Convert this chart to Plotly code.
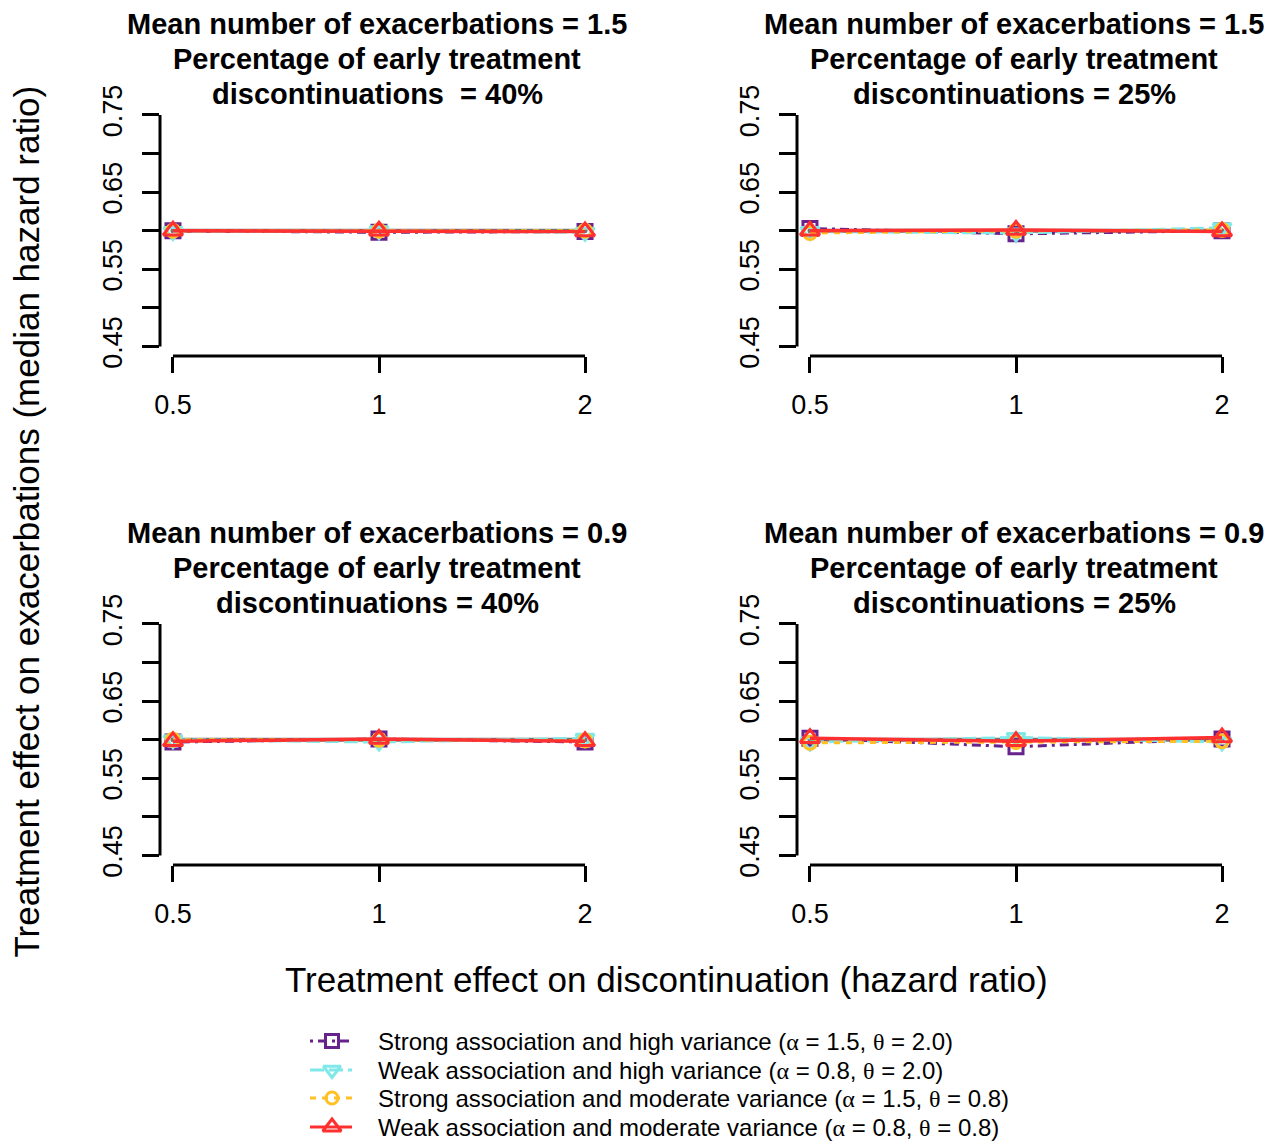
import plotly.graph_objects as go

W, H = 1283, 1142
OFF = 8  # page offset of the plot div (body margin)

# ---------------- data ----------------
x_labels = ["0.5", "1", "2"]
x_pos = [1, 2, 3]
true_value = [0.6, 0.6, 0.6]

# panel order: top-left, top-right, bottom-left, bottom-right
strong_high = [
    [0.600, 0.598, 0.599],
    [0.603, 0.596, 0.600],
    [0.597, 0.601, 0.597],
    [0.602, 0.591, 0.601],
]
weak_high = [
    [0.599, 0.600, 0.598],
    [0.599, 0.597, 0.604],
    [0.600, 0.597, 0.602],
    [0.597, 0.603, 0.597],
]
strong_moderate = [
    [0.600, 0.600, 0.600],
    [0.597, 0.600, 0.601],
    [0.600, 0.600, 0.599],
    [0.596, 0.597, 0.598],
]
weak_moderate = [
    [0.600, 0.600, 0.599],
    [0.600, 0.601, 0.599],
    [0.598, 0.601, 0.598],
    [0.602, 0.598, 0.603],
]

panel_titles = [
    ["Mean number of exacerbations = 1.5", "Percentage of early treatment", "discontinuations \u00a0= 40%"],
    ["Mean number of exacerbations = 1.5", "Percentage of early treatment", "discontinuations = 25%"],
    ["Mean number of exacerbations = 0.9", "Percentage of early treatment", "discontinuations = 40%"],
    ["Mean number of exacerbations = 0.9", "Percentage of early treatment", "discontinuations = 25%"],
]

y_tickvals = [0.45, 0.50, 0.55, 0.60, 0.65, 0.70, 0.75]
y_ticktext = ["0.45", "", "0.55", "", "0.65", "", "0.75"]

SERIF = "<span style='font-family:Liberation Serif, DejaVu Serif, serif'>"
series_names = [
    "Strong association and high variance (" + SERIF + "α</span> = 1.5, " + SERIF + "θ</span> = 2.0)",
    "Weak association and high variance (" + SERIF + "α</span> = 0.8, " + SERIF + "θ</span> = 2.0)",
    "Strong association and moderate variance (" + SERIF + "α</span> = 1.5, " + SERIF + "θ</span> = 0.8)",
    "Weak association and moderate variance (" + SERIF + "α</span> = 0.8, " + SERIF + "θ</span> = 0.8)",
]
series_data = [strong_high, weak_high, strong_moderate, weak_moderate]

# ---------------- styles ----------------
colors = ["#68228B", "#80E8E8", "#FFC125", "#FF3030"]
dashes = ["3px,5px,9px,5px", "14px,5px", "6px,6px", "solid"]
symbols = ["square-open", "triangle-down-open", "circle-open", "triangle-up-open"]
msizes = [14, 16, 13, 17]
lwidths = [3, 3, 3, 3.5]
GRAY = "#747474"
FONT = "Liberation Sans, Arial, Helvetica, sans-serif"

# panel pixel boxes (screen px): (left, right, top, bottom)
boxes = [
    (160, 598, 105.5, 356),
    (797, 1235, 105.5, 356),
    (160, 598, 614.5, 865),
    (797, 1235, 614.5, 865),
]

fig = go.Figure()
layout = dict(
    width=W, height=H, margin=dict(l=0, r=0, t=0, b=0, pad=0, autoexpand=False),
    paper_bgcolor="white", plot_bgcolor="rgba(0,0,0,0)",
    showlegend=False, font=dict(family=FONT, color="black"),
)
# pixel-space overlay axes (screen px) for titles and the legend
layout["xaxis5"] = dict(domain=[0, 1], range=[OFF, W + OFF], visible=False,
                        fixedrange=True, anchor="y5")
layout["yaxis5"] = dict(domain=[0, 1], range=[H + OFF, OFF], visible=False,
                        fixedrange=True, anchor="x5")
shapes = []
annotations = []

for i, (l, r, t, b) in enumerate(boxes):
    k = i + 1
    xa = "x" if k == 1 else f"x{k}"
    ya = "y" if k == 1 else f"y{k}"
    xkey = "xaxis" if k == 1 else f"xaxis{k}"
    ykey = "yaxis" if k == 1 else f"yaxis{k}"
    layout[xkey] = dict(
        domain=[(l - OFF) / W, (r - OFF) / W], anchor=ya, range=[0.937, 3.063],
        tickvals=x_pos, ticktext=x_labels, ticks="outside", ticklen=16,
        tickwidth=3, tickcolor="black", showline=False, showgrid=False,
        zeroline=False, tickfont=dict(size=27, family=FONT),
        ticklabelstandoff=9, fixedrange=True,
    )
    layout[ykey] = dict(
        domain=[1 - (b - OFF) / H, 1 - (t - OFF) / H], anchor=xa,
        range=[0.4377, 0.7623],
        tickvals=y_tickvals, ticktext=y_ticktext, ticks="outside", ticklen=17,
        tickwidth=3, tickcolor="black", showline=False, showgrid=False,
        zeroline=False, tickangle=-90, tickfont=dict(size=27, family=FONT),
        ticklabelstandoff=9, fixedrange=True,
    )
    # R-style detached axis lines
    shapes.append(dict(type="line", xref=f"{xa} domain", yref=ya, x0=0, x1=0,
                       y0=y_tickvals[0], y1=y_tickvals[-1],
                       line=dict(color="black", width=3)))
    shapes.append(dict(type="line", xref=xa, yref=f"{ya} domain", x0=x_pos[0],
                       x1=x_pos[-1], y0=0, y1=0, line=dict(color="black", width=3)))
    # reference line (true value)
    fig.add_trace(go.Scatter(x=x_pos, y=true_value, xaxis=xa, yaxis=ya,
                             mode="lines+markers", line=dict(color=GRAY, width=4),
                             marker=dict(size=5, color=GRAY), hoverinfo="skip"))
    for s in range(4):
        fig.add_trace(go.Scatter(
            x=x_pos, y=series_data[s][i], xaxis=xa, yaxis=ya, mode="lines+markers",
            line=dict(color=colors[s], width=lwidths[s], dash=dashes[s]),
            marker=dict(symbol=symbols[s], size=msizes[s], color=colors[s],
                        line=dict(width=3, color=colors[s])),
        ))
    # panel titles
    cx = (l + r) / 2
    for j, line_txt in enumerate(panel_titles[i]):
        annotations.append(dict(
            text="<b>" + line_txt + "</b>", xref="x5", yref="y5",
            x=cx - 2, y=t - 81.5 + 35 * j, xanchor="center", yanchor="middle",
            showarrow=False, font=dict(size=29, family=FONT, color="black"),
        ))

# global axis titles
annotations.append(dict(
    text="Treatment effect on exacerbations (median hazard ratio)", xref="x5",
    yref="y5", x=26, y=521.5, textangle=-90, showarrow=False,
    xanchor="center", yanchor="middle", font=dict(size=35, family=FONT)))
annotations.append(dict(
    text="Treatment effect on discontinuation (hazard ratio)", xref="x5",
    yref="y5", x=666, y=979, showarrow=False,
    xanchor="center", yanchor="middle", font=dict(size=35, family=FONT)))

# manual legend
legend_rows = [1041, 1070, 1098, 1127]
for s in range(4):
    yy = legend_rows[s]
    fig.add_trace(go.Scatter(x=[310, 352], y=[yy, yy], xaxis="x5", yaxis="y5",
                             mode="lines", hoverinfo="skip",
                             line=dict(color=colors[s], width=3, dash=dashes[s])))
    fig.add_trace(go.Scatter(x=[332], y=[yy], xaxis="x5", yaxis="y5", mode="markers",
                             hoverinfo="skip",
                             marker=dict(symbol=symbols[s], size=msizes[s] - 1,
                                         color=colors[s],
                                         line=dict(width=3, color=colors[s]))))
    annotations.append(dict(text=series_names[s], xref="x5", yref="y5",
                            x=376, y=yy, xanchor="left", yanchor="middle",
                            showarrow=False, font=dict(size=24, family=FONT)))

layout["shapes"] = shapes
layout["annotations"] = annotations
fig.update_layout(**layout)
fig.write_html("out.html")
